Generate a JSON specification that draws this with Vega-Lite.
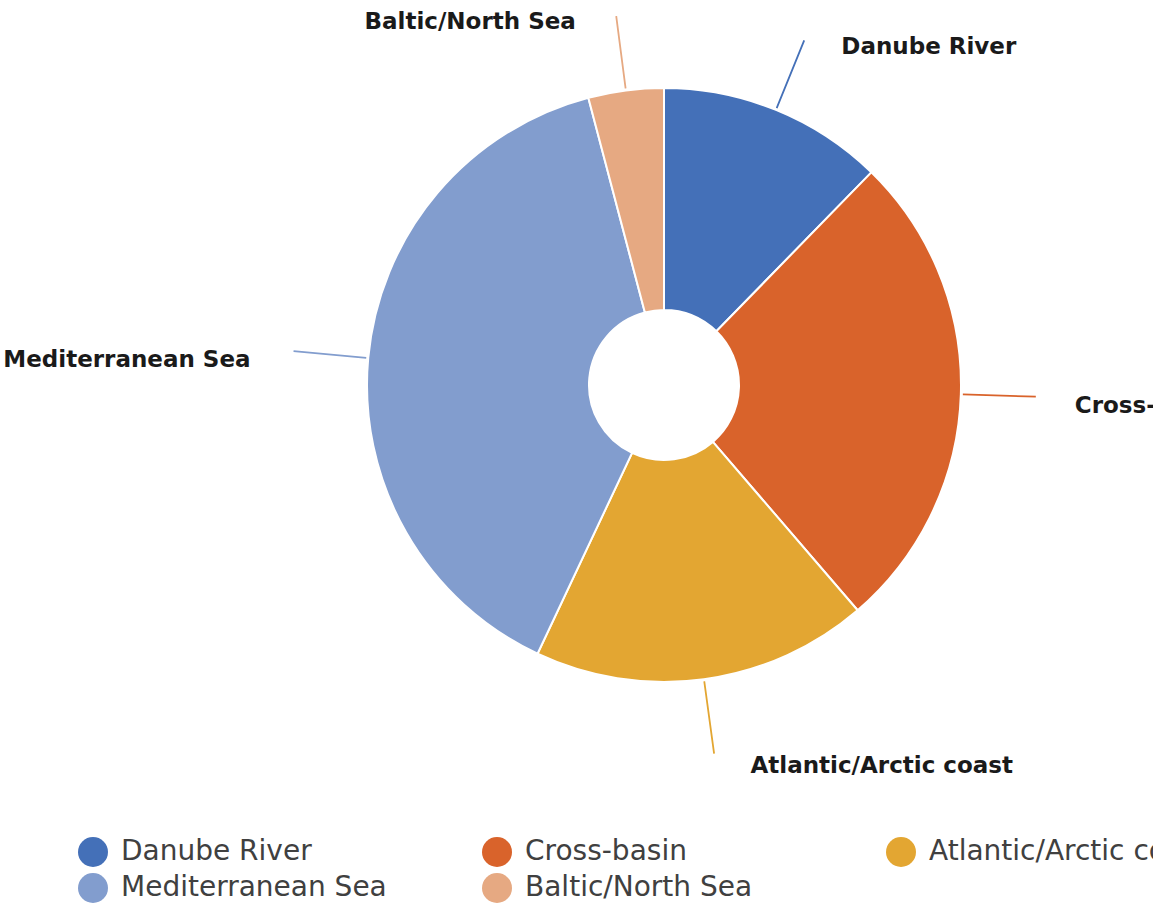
{
  "$schema": "https://vega.github.io/schema/vega-lite/v6.json",
  "width": 978,
  "height": 770,
  "autosize": {"type": "none"},
  "padding": {"left": 175, "top": 0, "right": 0, "bottom": 134},
  "background": "white",
  "config": {"view": {"stroke": null}},
  "data": {
    "values": [
      {"label": "Danube River", "value": 12.3, "rank": 1},
      {"label": "Cross-basin", "value": 26.4, "rank": 2},
      {"label": "Atlantic/Arctic coast", "value": 18.3, "rank": 3},
      {"label": "Mediterranean Sea", "value": 38.9, "rank": 4},
      {"label": "Baltic/North Sea", "value": 4.1, "rank": 5}
    ]
  },
  "encoding": {
    "theta": {"field": "value", "type": "quantitative", "stack": true},
    "order": {"field": "rank", "type": "quantitative"}
  },
  "layer": [
    {
      "mark": {"type": "arc", "outerRadius": 297, "innerRadius": 75, "stroke": "white", "strokeWidth": 2},
      "encoding": {
        "color": {
          "field": "label",
          "type": "nominal",
          "scale": {
            "domain": ["Danube River", "Cross-basin", "Atlantic/Arctic coast", "Mediterranean Sea", "Baltic/North Sea"],
            "range": ["#4470B8", "#D9632B", "#E3A632", "#829DCE", "#E6A982"]
          },
          "legend": {
            "title": null,
            "orient": "none",
            "legendX": -97,
            "legendY": 837,
            "columns": 3,
            "direction": "horizontal",
            "symbolType": "circle",
            "symbolSize": 900,
            "symbolStrokeWidth": 0,
            "symbolOpacity": 1,
            "labelFontSize": 28,
            "labelFont": "DejaVu Sans",
            "labelColor": "#404040",
            "labelOffset": 13,
            "labelLimit": 600,
            "rowPadding": 6,
            "columnPadding": 81,
            "gridAlign": "all",
            "padding": 0
          }
        }
      }
    },
    {
      "mark": {"type": "arc", "innerRadius": 299, "outerRadius": 372, "padAngle": 3, "fillOpacity": 0, "strokeWidth": 1.8},
      "encoding": {
        "stroke": {
          "field": "label",
          "type": "nominal",
          "scale": {
            "domain": ["Danube River", "Cross-basin", "Atlantic/Arctic coast", "Mediterranean Sea", "Baltic/North Sea"],
            "range": ["#4470B8", "#D9632B", "#E3A632", "#829DCE", "#E6A982"]
          },
          "legend": null
        }
      }
    },
    {
      "mark": {"type": "text", "radius": 375, "align": "left", "baseline": "middle", "dx": 36, "dy": 9, "font": "DejaVu Sans", "fontSize": 23, "fontWeight": "bold", "color": "#1a1a1a"},
      "encoding": {
        "text": {"condition": {"test": "datum.rank <= 3", "field": "label"}, "value": ""}
      }
    },
    {
      "mark": {"type": "text", "radius": 375, "align": "right", "baseline": "middle", "dx": -40, "dy": 9, "font": "DejaVu Sans", "fontSize": 23, "fontWeight": "bold", "color": "#1a1a1a"},
      "encoding": {
        "text": {"condition": {"test": "datum.rank > 3", "field": "label"}, "value": ""}
      }
    }
  ]
}
